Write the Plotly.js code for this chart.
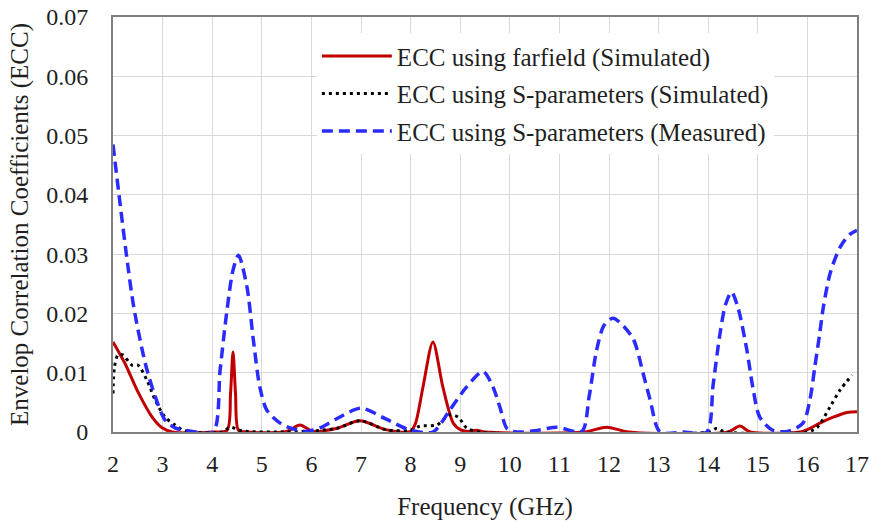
<!DOCTYPE html>
<html>
<head>
<meta charset="utf-8">
<script src="https://cdn.plot.ly/plotly-3.0.1.min.js"></script>
<style>html,body{margin:0;padding:0;background:#fff;}#chart{width:869px;height:529px;}</style>
</head>
<body>
<div id="chart"></div>
<script>
// Frequency (GHz) and ECC values
const farfieldX = [2, 2.24, 2.5, 2.79, 2.99, 3.2, 4.0, 4.3, 4.37, 4.42, 4.47, 4.53, 4.7, 5.5, 5.77, 6.03, 6.5, 6.98, 7.5, 8.0, 8.1, 8.25, 8.45, 8.65, 8.86, 9.0, 9.15, 9.33, 9.5, 11.5, 11.95, 12.4, 14.4, 14.64, 14.85, 15.85, 16.05, 16.25, 16.52, 16.8, 17];
const farfieldY = [0.0152, 0.0116, 0.0068, 0.0025, 0.0007, 0, 0, 0.0003, 0.0065, 0.0135, 0.0065, 0.0003, 0, 0.0001, 0.0012, 0.0001, 0.0006, 0.0019, 0.0004, 0.0001, 0.0015, 0.0076, 0.0152, 0.0076, 0.0015, 0.0004, 0.0001, 0.0003, 0, 0, 0.0008, 0, 0, 0.001, 0, 0, 0.0006, 0.0015, 0.0025, 0.0033, 0.0034];

const sparSimX = [2, 2.03, 2.1, 2.2, 2.38, 2.5, 2.68, 2.85, 3.05, 3.25, 3.45, 4.2, 4.36, 4.6, 5.5, 6.5, 6.98, 7.5, 8.0, 8.19, 8.53, 8.79, 8.96, 9.13, 9.4, 14.0, 14.17, 14.35, 16.0, 16.2, 16.46, 16.66, 16.9];
const sparSimY = [0.0065, 0.011, 0.013, 0.013, 0.0113, 0.0113, 0.0088, 0.0054, 0.0025, 0.0012, 0.0002, 0, 0.0008, 0.0002, 0, 0.0006, 0.0019, 0.0004, 0.0003, 0.001, 0.0012, 0.0029, 0.0025, 0.0007, 0, 0, 0.0006, 0, 0, 0.0008, 0.0043, 0.0071, 0.0096];

const sparMeasX = [2, 2.15, 2.3, 2.42, 2.65, 2.85, 3.05, 3.25, 3.6, 4.02, 4.16, 4.29, 4.42, 4.53, 4.7, 4.83, 4.96, 5.1, 5.37, 5.6, 5.9, 6.2, 6.5, 7.0, 7.5, 8.0, 8.45, 8.79, 9.13, 9.46, 9.66, 9.8, 9.95, 10.15, 10.5, 10.95, 11.45, 11.6, 11.75, 11.9, 12.08, 12.3, 12.5, 12.7, 12.83, 13.03, 13.5, 13.97, 14.1, 14.24, 14.35, 14.47, 14.6, 14.78, 14.9, 15.04, 15.3, 15.6, 15.91, 16.05, 16.15, 16.25, 16.32, 16.46, 16.66, 16.85, 17];
const sparMeasY = [0.0485, 0.038, 0.028, 0.021, 0.0116, 0.006, 0.002, 0.0007, 0.0001, 0, 0.0105, 0.02, 0.0273, 0.0298, 0.0245, 0.0155, 0.0076, 0.0037, 0.0015, 0.0006, 0.0001, 0.0008, 0.0022, 0.004, 0.0022, 0.0003, 0, 0.0037, 0.0076, 0.0102, 0.0076, 0.0042, 0.0005, 0, 0.0002, 0.0008, 0.0001, 0.006, 0.0138, 0.018, 0.0192, 0.0178, 0.0155, 0.0095, 0.0054, 0, 0, 0, 0.008, 0.0167, 0.0215, 0.0236, 0.021, 0.0138, 0.0075, 0.0025, 0.0003, 0.0001, 0.0015, 0.0054, 0.011, 0.0167, 0.021, 0.0268, 0.0312, 0.0333, 0.034];

const seriesNames = ["ECC using farfield (Simulated)", "ECC using S-parameters (Simulated)", "ECC using S-parameters (Measured)"];
const xTicks = [2,3,4,5,6,7,8,9,10,11,12,13,14,15,16,17];
const yTicks = [0,0.01,0.02,0.03,0.04,0.05,0.06,0.07];
const yTickText = ["0","0.01","0.02","0.03","0.04","0.05","0.06","0.07"];

const serif = "Liberation Serif, Times New Roman, serif";

const traces = [
  {x: farfieldX, y: farfieldY, name: seriesNames[0], mode: "lines", legendgroup: "a",
   line: {color: "#C00000", width: 3, shape: "spline", smoothing: 0.8}},
  {x: sparSimX, y: sparSimY, name: seriesNames[1], mode: "lines", legendgroup: "b",
   line: {color: "#000000", width: 3, dash: "3px,4px", shape: "spline", smoothing: 0.8}},
  {x: sparMeasX, y: sparMeasY, name: seriesNames[2], mode: "lines", legendgroup: "c",
   line: {color: "#2B2BFF", width: 3.5, dash: "11px,6px", shape: "spline", smoothing: 0.8}}
];

const layout = {
  width: 869, height: 529,
  margin: {l: 113, r: 12, t: 17, b: 97},
  paper_bgcolor: "#fff", plot_bgcolor: "#fff",
  font: {family: serif, size: 24, color: "#1f1f1f"},
  showlegend: true,
  legend: {x: 0.274, y: 0.961, xanchor: "left", yanchor: "top",
    bgcolor: "#ffffff", borderwidth: 0, font: {family: serif, size: 25, color: "#1f1f1f"},
    traceorder: "grouped", tracegroupgap: 2, itemwidth: 70},
  shapes: [{type: "rect", xref: "paper", yref: "paper", x0: 0.2285, x1: 0.937, y0: 0.68, y1: 0.997,
    layer: "below", fillcolor: "#ffffff", line: {width: 0}}],
  xaxis: {range: [2, 17], tickvals: xTicks, ticktext: xTicks.map(String),
    showgrid: true, gridcolor: "#d9d9d9", gridwidth: 1,
    showline: true, linecolor: "#808080", linewidth: 2, mirror: true,
    ticks: "outside", ticklen: 9, tickcolor: "rgba(0,0,0,0)",
    tickfont: {family: serif, size: 24},
    zeroline: false, fixedrange: true,
    title: {text: "Frequency (GHz)", font: {family: serif, size: 25}, standoff: 22}},
  yaxis: {range: [0, 0.07], tickvals: yTicks, ticktext: yTickText,
    showgrid: true, gridcolor: "#d9d9d9", gridwidth: 1,
    showline: true, linecolor: "#808080", linewidth: 2, mirror: true,
    ticks: "outside", ticklen: 18, tickcolor: "rgba(0,0,0,0)",
    tickfont: {family: serif, size: 24},
    zeroline: false, fixedrange: true,
    title: {text: "Envelop Correlation Coefficients (ECC)", font: {family: serif, size: 25}, standoff: 10}}
};

Plotly.newPlot("chart", traces, layout, {staticPlot: true, displayModeBar: false});
</script>
</body>
</html>
